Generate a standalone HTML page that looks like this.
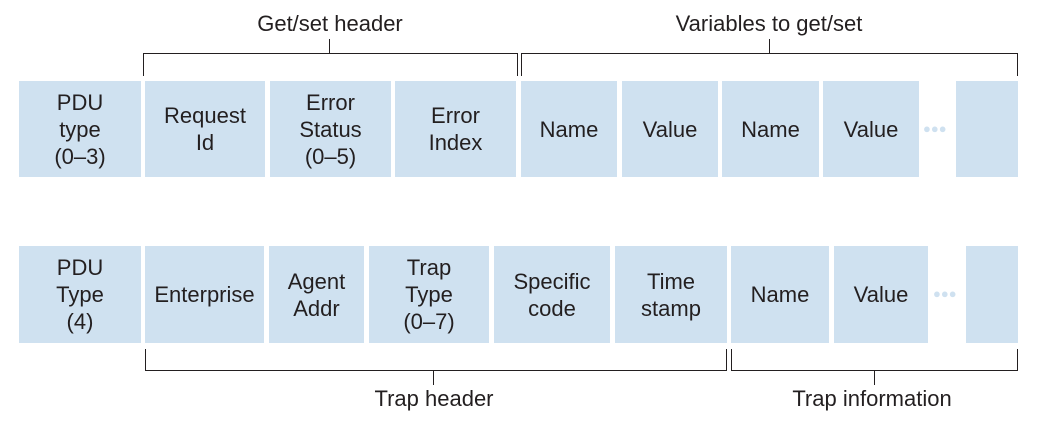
<!DOCTYPE html>
<html><head><meta charset="utf-8"><style>
html,body{margin:0;padding:0;background:#fff;}
#d{position:relative;width:1038px;height:439px;overflow:hidden;font-family:"Liberation Sans",sans-serif;color:#231f20;}
.b{position:absolute;background:#cfe1f0;display:flex;align-items:center;justify-content:center;text-align:center;font-size:22px;line-height:27px;}
.l{position:absolute;background:#231f20;}
.t{position:absolute;font-size:22px;text-align:center;width:300px;line-height:26px;}
.dots{position:absolute;font-size:13px;color:#cfe1f0;letter-spacing:0px;}
</style></head><body>
<div id="d">
<div class="b" style="left:19px;top:81px;width:122px;height:96px">PDU<br>type<br>(0–3)</div>
<div class="b" style="left:145px;top:81px;width:120px;height:96px">Request<br>Id</div>
<div class="b" style="left:270px;top:81px;width:121px;height:96px">Error<br>Status<br>(0–5)</div>
<div class="b" style="left:395px;top:81px;width:121px;height:96px">Error<br>Index</div>
<div class="b" style="left:521px;top:81px;width:96px;height:96px">Name</div>
<div class="b" style="left:622px;top:81px;width:96px;height:96px">Value</div>
<div class="b" style="left:722px;top:81px;width:97px;height:96px">Name</div>
<div class="b" style="left:823px;top:81px;width:96px;height:96px">Value</div>
<div class="dots" style="left:923px;top:121px">●●●</div>
<div class="b" style="left:956px;top:81px;width:62px;height:96px"></div>
<div class="l" style="left:143px;top:53px;width:375px;height:1px"></div>
<div class="l" style="left:143px;top:53px;width:1px;height:23px"></div>
<div class="l" style="left:517px;top:53px;width:1px;height:23px"></div>
<div class="l" style="left:329px;top:39px;width:1px;height:14px"></div>
<div class="l" style="left:521px;top:53px;width:497px;height:1px"></div>
<div class="l" style="left:521px;top:53px;width:1px;height:23px"></div>
<div class="l" style="left:1017px;top:53px;width:1px;height:23px"></div>
<div class="l" style="left:769px;top:39px;width:1px;height:14px"></div>
<div class="t" style="left:180px;top:11px">Get/set header</div>
<div class="t" style="left:619px;top:11px">Variables to get/set</div>
<div class="b" style="left:19px;top:246px;width:122px;height:97px">PDU<br>Type<br>(4)</div>
<div class="b" style="left:145px;top:246px;width:119px;height:97px">Enterprise</div>
<div class="b" style="left:269px;top:246px;width:95px;height:97px">Agent<br>Addr</div>
<div class="b" style="left:369px;top:246px;width:120px;height:97px">Trap<br>Type<br>(0–7)</div>
<div class="b" style="left:494px;top:246px;width:116px;height:97px">Specific<br>code</div>
<div class="b" style="left:615px;top:246px;width:112px;height:97px">Time<br>stamp</div>
<div class="b" style="left:731px;top:246px;width:98px;height:97px">Name</div>
<div class="b" style="left:834px;top:246px;width:94px;height:97px">Value</div>
<div class="dots" style="left:933px;top:286px">●●●</div>
<div class="b" style="left:966px;top:246px;width:52px;height:97px"></div>
<div class="l" style="left:145px;top:370px;width:582px;height:1px"></div>
<div class="l" style="left:145px;top:349px;width:1px;height:22px"></div>
<div class="l" style="left:726px;top:349px;width:1px;height:22px"></div>
<div class="l" style="left:433px;top:370px;width:1px;height:15px"></div>
<div class="l" style="left:731px;top:370px;width:287px;height:1px"></div>
<div class="l" style="left:731px;top:349px;width:1px;height:22px"></div>
<div class="l" style="left:1017px;top:349px;width:1px;height:22px"></div>
<div class="l" style="left:874px;top:370px;width:1px;height:15px"></div>
<div class="t" style="left:284px;top:386px">Trap header</div>
<div class="t" style="left:722px;top:386px">Trap information</div>
</div>
</body></html>
